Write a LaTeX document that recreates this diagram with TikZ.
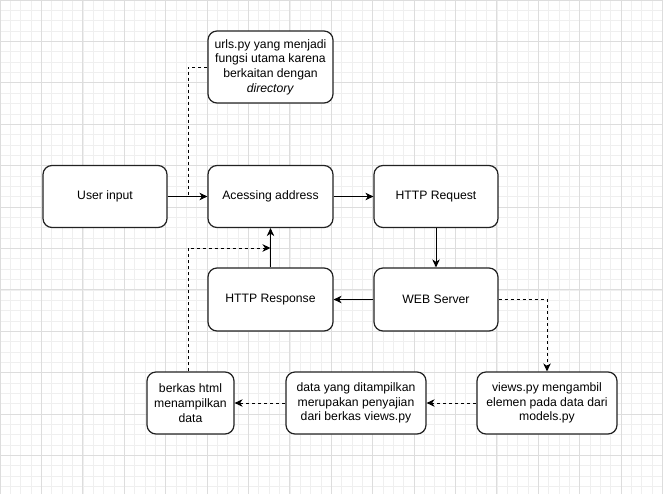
\documentclass[tikz,border=0pt]{standalone}
\usepackage{fontspec}
\setmainfont{Liberation Sans}
\usetikzlibrary{arrows.meta}
\definecolor{gridminor}{HTML}{EFEFEF}
\definecolor{gridmajor}{HTML}{DDDDDD}
\definecolor{boxline}{HTML}{222222}
\begin{document}
\begin{tikzpicture}[x=1pt,y=-1pt,
  box/.style={draw=boxline, line width=1.2pt, rounded corners=9pt, fill=white,
    align=center, inner sep=0pt, minimum height=62pt,
    font=\fontsize{12.2}{14.7}\selectfont},
  conn/.style={line width=0.9pt, draw=black, -{Stealth[length=8pt,width=7.5pt,inset=2.5pt]}},
  dline/.style={line width=0.9pt, draw=black, dash pattern=on 3pt off 3pt},
  dconn/.style={conn, dash pattern=on 3pt off 3pt}
]
\useasboundingbox (0,0) rectangle (663,494);
\fill[white] (0,0) rectangle (663,494);
% grid
\foreach \i in {0,...,64} {
  \pgfmathsetmacro{\xx}{\i*10.35}
  \draw[gridminor, line width=0.6pt] (\xx,0) -- (\xx,494);
}
\foreach \i in {0,...,48} {
  \pgfmathsetmacro{\yy}{\i*10.35}
  \draw[gridminor, line width=0.6pt] (0,\yy) -- (663,\yy);
}
\foreach \i in {0,...,16} {
  \pgfmathsetmacro{\xx}{\i*41.4}
  \draw[gridmajor, line width=0.8pt] (\xx,0) -- (\xx,494);
}
\foreach \i in {0,...,12} {
  \pgfmathsetmacro{\yy}{\i*41.4}
  \draw[gridmajor, line width=0.8pt] (0,\yy) -- (663,\yy);
}
% nodes
\node[box, minimum width=125pt, minimum height=72pt] (urls) at (270.5,67)
  {urls.py yang menjadi\\fungsi utama karena\\berkaitan dengan\\\textit{directory}};
\node[box, minimum width=124pt] (user) at (105,196.5) {User input};
\node[box, minimum width=125pt] (acc) at (270.5,196.5) {Acessing address};
\node[box, minimum width=124pt] (req) at (436,196.5) {HTTP Request};
\node[box, minimum width=125pt, minimum height=63pt] (resp) at (270.5,299.5) {HTTP Response};
\node[box, minimum width=124pt, minimum height=63pt] (web) at (436,299.5) {WEB Server};
\node[box, minimum width=87pt] (berkas) at (190.5,403) {berkas html\\menampilkan\\data};
\node[box, minimum width=140pt] (data) at (356,403) {data yang ditampilkan\\merupakan penyajian\\dari berkas views.py};
\node[box, minimum width=140pt] (views) at (547,403) {views.py mengambil\\elemen pada data dari\\models.py};
\coordinate (j1) at (188,196.5);
\coordinate (j2) at (270.5,248);
% connectors
\draw[conn] (user) -- (acc);
\draw[conn] (acc) -- (req);
\draw[conn] (req) -- (web);
\draw[conn] (web) -- (resp);
\draw[conn] (resp) -- (acc);
\draw[dline] (urls.west) -| (j1);
\draw[dconn] (web.east) -| (views.north);
\draw[dconn] (views) -- (data);
\draw[dconn] (data) -- (berkas);
\draw[dconn] ([xshift=-2.5pt]berkas.north) |- (j2);
\end{tikzpicture}
\end{document}
